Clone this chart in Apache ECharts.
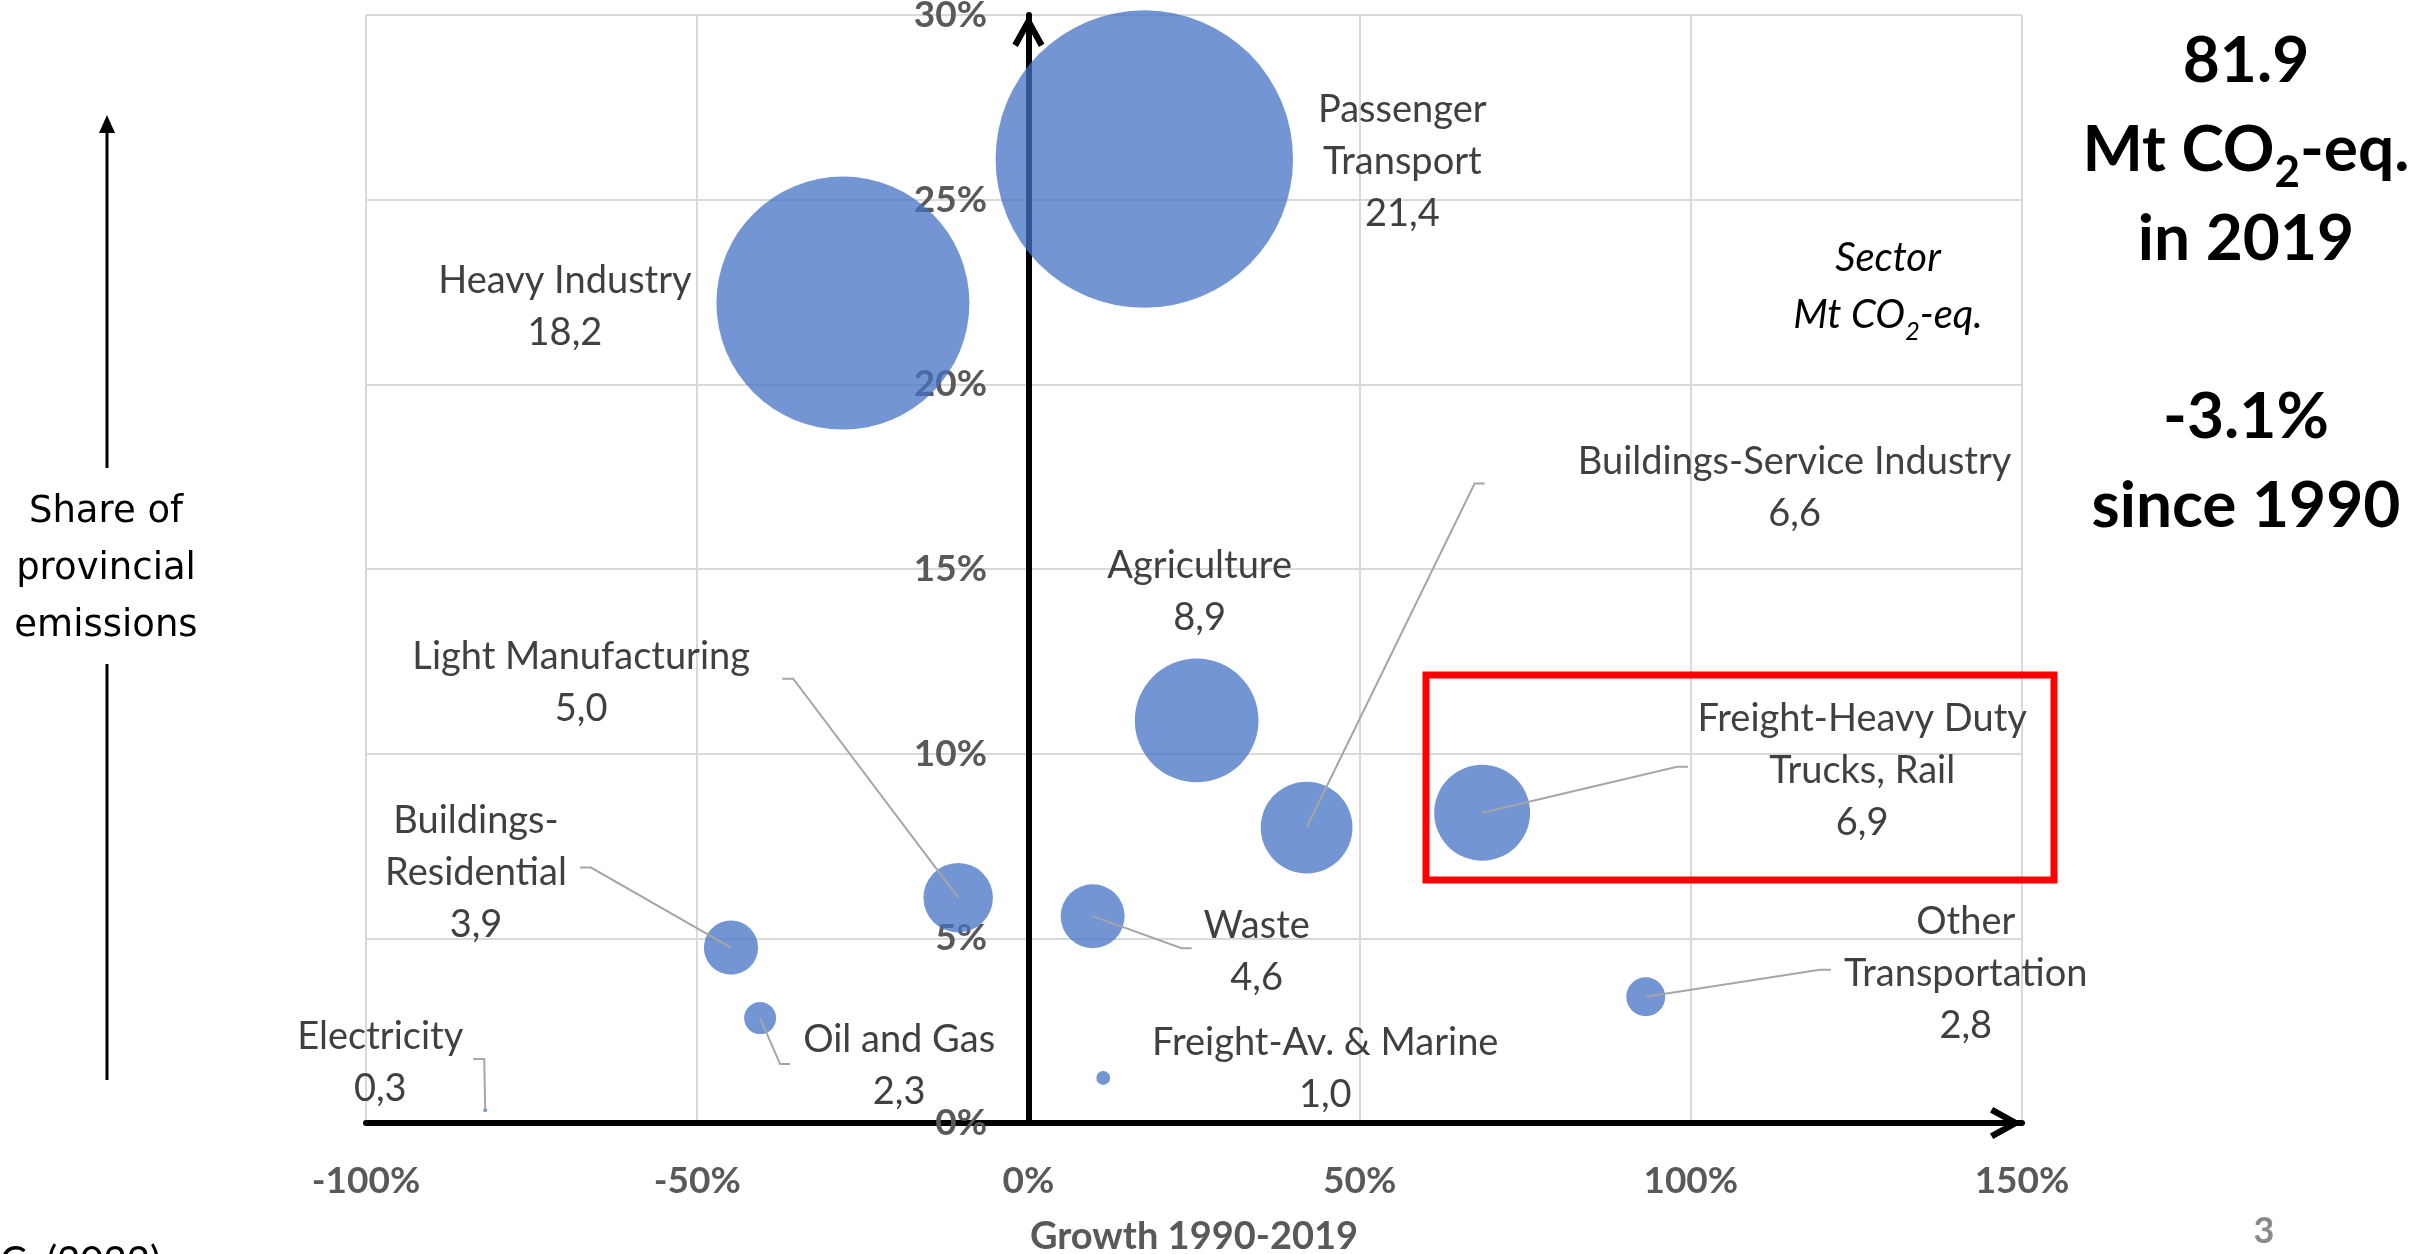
<!DOCTYPE html>
<html>
<head>
<meta charset="utf-8">
<title>Sector emissions 1990-2019</title>
<script src="https://cdn.jsdelivr.net/npm/echarts@6.0.0/dist/echarts.min.js"></script>
<style>
  html, body { margin: 0; padding: 0; background: #fff; }
  #chart { width: 2420px; height: 1254px; }
</style>
</head>
<body>
<div id="chart"></div>
<script>
// sector names (with the line breaks used by the labels)
const sectors = [
  "Passenger\nTransport",
  "Heavy Industry",
  "Agriculture",
  "Buildings-Service Industry",
  "Freight-Heavy Duty\nTrucks, Rail",
  "Light Manufacturing",
  "Waste",
  "Buildings-\nResidential",
  "Oil and Gas",
  "Other\nTransportation",
  "Freight-Av. & Marine",
  "Electricity",
];
// growth 1990-2019 (%)
const growth = [17.5, -28.0, 25.4, 42.0, 68.5, -10.6, 9.7, -44.9, -40.5, 93.2, 11.3, -82.0];
// share of provincial emissions (%)
const share = [26.1, 22.2, 10.9, 8.0, 8.4, 6.1, 5.6, 4.75, 2.84, 3.42, 1.22, 0.35];
// Mt CO2-eq. in 2019 (bubble size)
const emissions = [21.4, 18.2, 8.9, 6.6, 6.9, 5.0, 4.6, 3.9, 2.3, 2.8, 1.0, 0.3];

// label placement, px from the bubble centre
const labelOffset = [
  [258, 3], [-278, 4], [3, -129], [488, -340], [380, -42], [-377, -215],
  [164, 36], [-255, -75], [139, 48], [320, -23], [222, -9], [-105, -47],
];
// leader lines: [elbow dx, elbow dy, tick end dx]
const leader = [
  null, null, null, [168, -344, 178], [195, -46, 206], [-165, -219, -176],
  [89, 32, 99], [-140, -80, -151], [20, 46, 30], [174, -27, 185], null, [-1, -51, -12],
];

const font = "Lato";
const bubbleScale = 13.9;
const chevron = "path://M50,0L100,90L83,100L50,40L17,100L0,90Z";

const chart = echarts.init(document.getElementById("chart"));

const renderLabel = function (params, api) {
  const i = params.dataIndex;
  const p = api.coord([api.value(0), api.value(1)]);
  const off = labelOffset[i];
  const lead = leader[i];
  const children = [];
  if (lead) {
    children.push({
      type: "polyline",
      shape: {
        points: [
          [p[0], p[1]],
          [p[0] + lead[0], p[1] + lead[1]],
          [p[0] + lead[2], p[1] + lead[1]],
        ],
      },
      style: { stroke: "#a6a6a6", lineWidth: 2, fill: null },
    });
  }
  children.push({
    type: "text",
    x: p[0] + off[0],
    y: p[1] + off[1],
    style: {
      text: sectors[i] + "\n" + emissions[i].toFixed(1).replace(".", ","),
      align: "center",
      verticalAlign: "middle",
      fontFamily: font,
      fontSize: 38,
      lineHeight: 52,
      fill: "#404040",
    },
  });
  return { type: "group", children: children };
};

const tickLabel = {
  formatter: "{value}%",
  color: "#595959",
  fontFamily: font,
  fontWeight: "bold",
  fontSize: 37,
};
const axisArrow = {
  onZero: true,
  symbol: ["none", chevron],
  symbolSize: [32, 32],
  symbolOffset: [0, -16],
  lineStyle: { color: "#000", width: 6 },
};

const option = {
  animation: false,
  backgroundColor: "#fff",
  grid: {
    left: 366,
    right: 398,
    top: 15,
    bottom: 131,
    containLabel: false,
    outerBoundsMode: "none",
  },
  xAxis: {
    type: "value",
    min: -100,
    max: 150,
    interval: 50,
    name: "Growth 1990-2019",
    nameLocation: "middle",
    nameGap: 95,
    nameTextStyle: {
      color: "#595959",
      fontFamily: font,
      fontWeight: "bold",
      fontSize: 38,
    },
    axisLine: axisArrow,
    axisTick: { show: false },
    axisLabel: Object.assign({ margin: 40 }, tickLabel),
    splitLine: { lineStyle: { color: "#d9d9d9", width: 2 } },
  },
  yAxis: [
    {
      // the arrow line, sitting on 0% growth
      type: "value",
      min: 0,
      max: 30,
      interval: 5,
      axisLine: axisArrow,
      axisTick: { show: false },
      axisLabel: { show: false },
      splitLine: { lineStyle: { color: "#d9d9d9", width: 2 } },
    },
    {
      // the percentage labels, moved next to the arrow line
      type: "value",
      position: "left",
      offset: -662,
      min: 0,
      max: 30,
      interval: 5,
      axisLine: { show: false, onZero: false },
      axisTick: { show: false },
      axisLabel: Object.assign({ margin: 41 }, tickLabel),
      splitLine: { show: false },
    },
  ],
  series: [
    {
      name: "sectors",
      type: "scatter",
      silent: true,
      data: growth.map((g, i) => [g, share[i], emissions[i]]),
      symbolSize: (v) => v[2] * bubbleScale,
      itemStyle: { color: "#4472C4", opacity: 0.75 },
    },
    {
      name: "labels",
      type: "custom",
      silent: true,
      z: 5,
      data: growth.map((g, i) => [g, share[i]]),
      encode: { x: 0, y: 1 },
      renderItem: renderLabel,
    },
  ],
  graphic: [
    // y-axis caption with its arrow
    {
      type: "polygon",
      z: 10,
      shape: { points: [[107, 115], [99, 133], [115, 133]] },
      style: { fill: "#000" },
    },
    {
      type: "line",
      z: 10,
      shape: { x1: 107, y1: 130, x2: 107, y2: 468 },
      style: { stroke: "#000", lineWidth: 3 },
    },
    {
      type: "line",
      z: 10,
      shape: { x1: 107, y1: 664, x2: 107, y2: 1080 },
      style: { stroke: "#000", lineWidth: 3 },
    },
    {
      type: "text",
      z: 10,
      x: 106,
      y: 569,
      style: {
        text: "Share of\nprovincial\nemissions",
        align: "center",
        verticalAlign: "middle",
        fontFamily: "DejaVu Sans",
        fontSize: 37,
        lineHeight: 57,
        fill: "#000",
      },
    },
    // legend for the bubble labels
    {
      type: "text",
      z: 10,
      x: 1888,
      y: 287,
      style: {
        text: "Sector\nMt CO{sub|2}-eq.",
        align: "center",
        verticalAlign: "middle",
        fontFamily: font,
        fontStyle: "italic",
        fontSize: 40,
        lineHeight: 57,
        fill: "#000",
        rich: {
          sub: {
            fontFamily: font,
            fontStyle: "italic",
            fontSize: 25,
            lineHeight: 21,
            verticalAlign: "bottom",
            fill: "#000",
          },
        },
      },
    },
    // totals
    {
      type: "text",
      z: 10,
      x: 2246,
      y: 284,
      style: {
        text: "81.9\nMt CO{sub|2}-eq.\nin 2019\n\n-3.1%\nsince 1990",
        align: "center",
        verticalAlign: "middle",
        fontFamily: font,
        fontWeight: "bold",
        fontSize: 64,
        lineHeight: 89,
        fill: "#000",
        rich: {
          sub: {
            fontFamily: font,
            fontWeight: "bold",
            fontSize: 44,
            lineHeight: 36,
            verticalAlign: "bottom",
            fill: "#000",
          },
        },
      },
    },
    // highlight box
    {
      type: "rect",
      z: 10,
      shape: { x: 1426, y: 675, width: 628, height: 205 },
      style: { fill: "none", stroke: "#ff0000", lineWidth: 7 },
    },
    {
      type: "text",
      z: 10,
      x: 2264,
      y: 1231,
      style: {
        text: "3",
        align: "center",
        verticalAlign: "middle",
        fontFamily: font,
        fontWeight: "bold",
        fontSize: 36,
        fill: "#8a8a8a",
      },
    },
    {
      type: "text",
      z: 10,
      x: 0,
      y: 1262,
      style: {
        text: "C. (2022)",
        align: "left",
        verticalAlign: "middle",
        fontFamily: font,
        fontSize: 40,
        fill: "#000",
      },
    },
  ],
};

chart.setOption(option);
</script>
</body>
</html>
